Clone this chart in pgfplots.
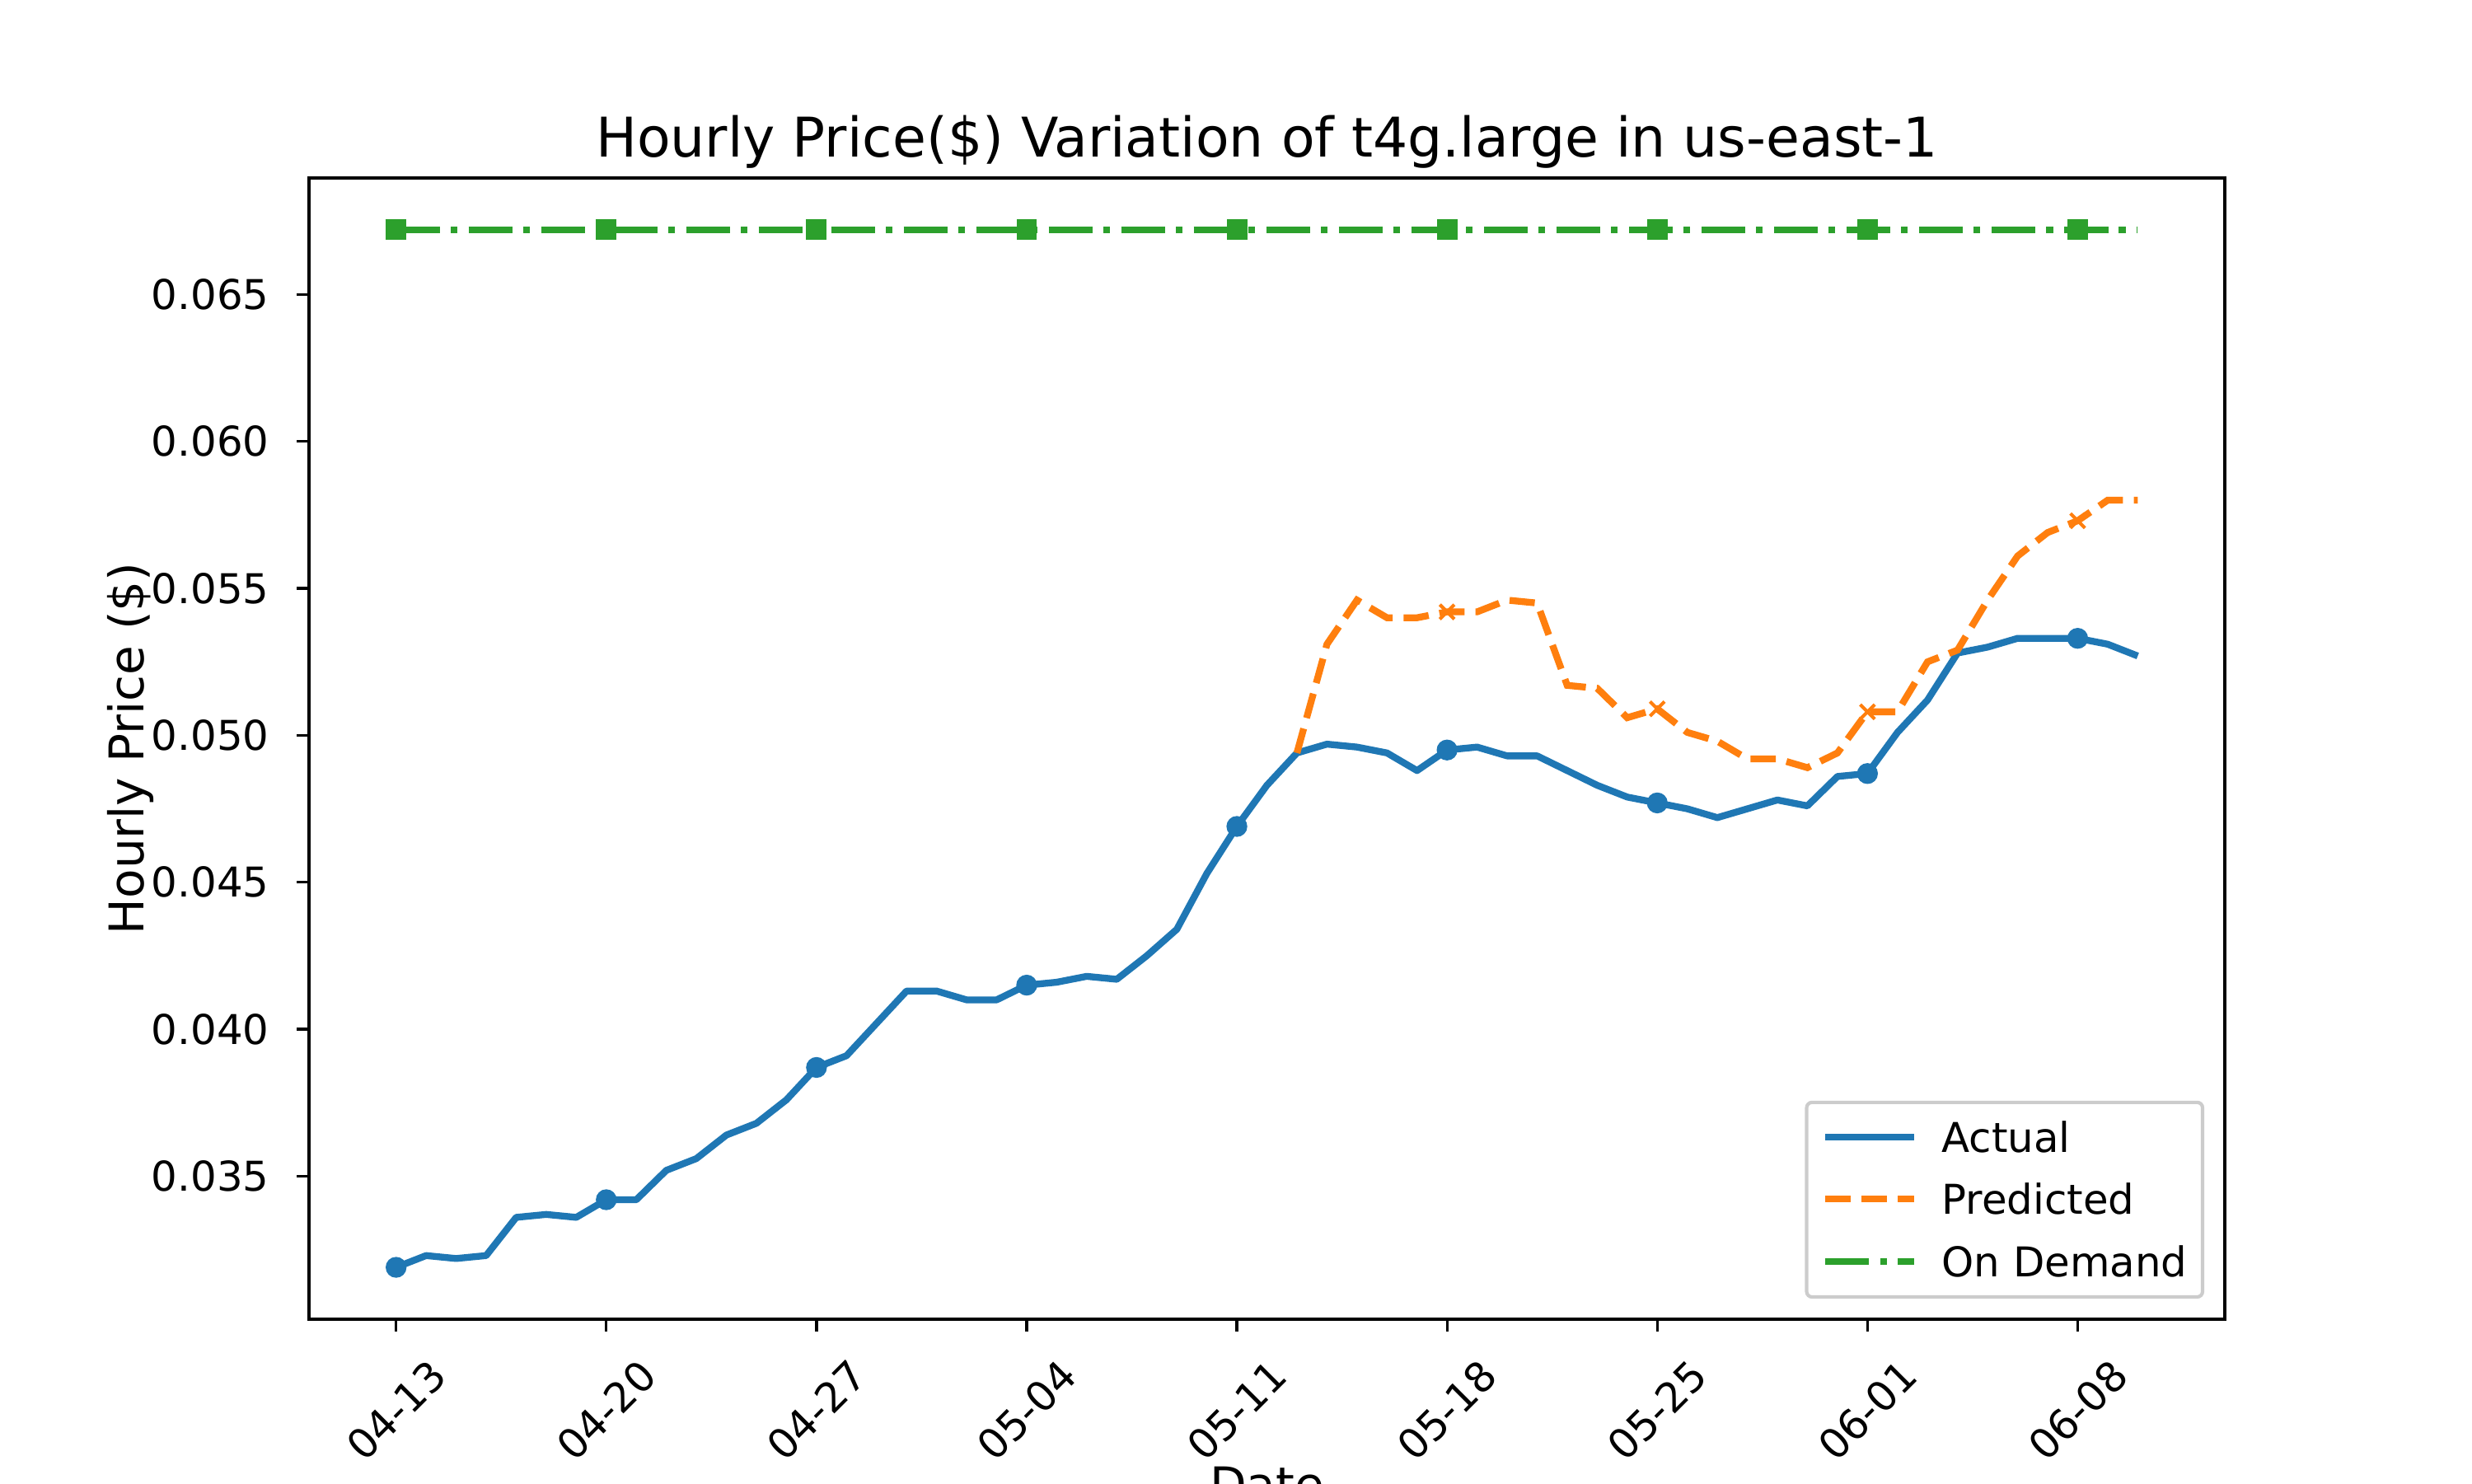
\documentclass[border=0pt]{standalone}
\usepackage{fontspec}
\setmainfont{DejaVu Sans}
\usepackage{pgfplots}
\pgfplotsset{compat=1.18}
\definecolor{tabblue}{HTML}{1F77B4}
\definecolor{taborange}{HTML}{FF7F0E}
\definecolor{tabgreen}{HTML}{2CA02C}
\begin{document}
\begin{tikzpicture}
\useasboundingbox (0,0) rectangle (10in,6in);
\begin{axis}[
  at={(1.25in,0.6633in)}, anchor=south west,
  scale only axis, width=7.75in, height=4.617in,
  xmin=-2.9, xmax=60.9, ymin=0.030135, ymax=0.068965,
  axis line style={line width=0.8pt},
  tick style={line width=0.8pt, black},
  tick align=outside, major tick length=3.5pt,
  xtick pos=bottom, ytick pos=left,
  xtick={0,7,14,21,28,35,42,49,56},
  xticklabels={04-13,04-20,04-27,05-04,05-11,05-18,05-25,06-01,06-08},
  ytick={0.035,0.040,0.045,0.050,0.055,0.060,0.065},
  yticklabel style={/pgf/number format/fixed, /pgf/number format/fixed zerofill, /pgf/number format/precision=3, /pgf/number format/assume math mode=true},
  scaled y ticks=false,
  tick label style={font=\fontsize{12}{14}\selectfont},
  xticklabel style={inner sep=0pt, yshift=-23.2pt, rotate=45, anchor=center},
  yticklabel style={inner sep=0pt, anchor=east, xshift=-8pt},
  every axis title/.style={at={(0.5,1)}, anchor=base, yshift=6pt, font=\fontsize{16}{19}\selectfont},
  title={Hourly Price(\$) Variation of t4g.large in us-east-1},
  every axis y label/.style={at={(0,0.5)}, xshift=-48.4pt, rotate=90, anchor=base, font=\fontsize{14}{17}\selectfont},
  ylabel={Hourly Price (\$)},
  every axis x label/.style={at={(0.5,0)}, anchor=north, inner sep=0pt, yshift=-43pt, font=\fontsize{14}{17}\selectfont},
  xlabel={Date},
  legend style={at={(1,0)}, anchor=south east, xshift=-6pt, yshift=6pt,
    draw=black!20, line width=1pt, rounded corners=1.6pt, fill=white,
    font=\fontsize{12}{14}\selectfont,
    inner xsep=4.5pt, inner ysep=5.5pt, row sep=8.7pt,
    nodes={inner sep=0pt, text height=9pt, text depth=0.5pt},
    cells={anchor=base west},
    /tikz/every odd column/.append style={column sep=7pt}},
  legend image code/.code={\path[draw=none, fill=none] (0pt,0pt) rectangle (26pt,9pt); \draw[#1, mark=none] (0pt,4.4pt) -- (26pt,4.4pt);},
]
\addplot[color=tabblue, line width=2pt, line join=round, mark=*, mark size=2.9pt,
  mark options={solid, line width=0.3pt}, mark repeat=7, mark phase=1]
coordinates {
(0,0.0319)(1,0.0323)(2,0.0322)(3,0.0323)(4,0.0336)(5,0.0337)(6,0.0336)
(7,0.0342)(8,0.0342)(9,0.0352)(10,0.0356)(11,0.0364)(12,0.0368)(13,0.0376)
(14,0.0387)(15,0.0391)(16,0.0402)(17,0.0413)(18,0.0413)(19,0.0410)(20,0.0410)
(21,0.0415)(22,0.0416)(23,0.0418)(24,0.0417)(25,0.0425)(26,0.0434)(27,0.0453)
(28,0.0469)(29,0.0483)(30,0.0494)(31,0.0497)(32,0.0496)(33,0.0494)(34,0.0488)
(35,0.0495)(36,0.0496)(37,0.0493)(38,0.0493)(39,0.0488)(40,0.0483)(41,0.0479)
(42,0.0477)(43,0.0475)(44,0.0472)(45,0.0475)(46,0.0478)(47,0.0476)(48,0.0486)
(49,0.0487)(50,0.0501)(51,0.0512)(52,0.0528)(53,0.0530)(54,0.0533)(55,0.0533)
(56,0.0533)(57,0.0531)(58,0.0527)
};
\addlegendentry{Actual}
\addplot[color=taborange, line width=2pt, dash pattern=on 7.4pt off 3.2pt, mark=x, mark size=3pt,
  mark options={solid, line width=1pt}, mark repeat=7, mark phase=6]
coordinates {
(30,0.0494)(31,0.0531)(32,0.0546)(33,0.0540)(34,0.0540)(35,0.0542)(36,0.0542)
(37,0.0546)(38,0.0545)(39,0.0517)(40,0.0516)(41,0.0506)(42,0.0509)(43,0.0501)
(44,0.0498)(45,0.0492)(46,0.0492)(47,0.0489)(48,0.0494)(49,0.0508)(50,0.0508)
(51,0.0525)(52,0.0529)(53,0.0546)(54,0.0561)(55,0.0569)(56,0.0573)(57,0.0580)
(58,0.0580)
};
\addlegendentry{Predicted}
\addplot[color=tabgreen, line width=2pt, dash pattern=on 12.8pt off 3.2pt on 2pt off 3.2pt,
  mark=square*, mark size=2.85pt, mark options={solid, line width=0.3pt}, mark repeat=7, mark phase=1]
coordinates {
(0,0.0672)(1,0.0672)(2,0.0672)(3,0.0672)(4,0.0672)(5,0.0672)(6,0.0672)
(7,0.0672)(8,0.0672)(9,0.0672)(10,0.0672)(11,0.0672)(12,0.0672)(13,0.0672)
(14,0.0672)(15,0.0672)(16,0.0672)(17,0.0672)(18,0.0672)(19,0.0672)(20,0.0672)
(21,0.0672)(22,0.0672)(23,0.0672)(24,0.0672)(25,0.0672)(26,0.0672)(27,0.0672)
(28,0.0672)(29,0.0672)(30,0.0672)(31,0.0672)(32,0.0672)(33,0.0672)(34,0.0672)
(35,0.0672)(36,0.0672)(37,0.0672)(38,0.0672)(39,0.0672)(40,0.0672)(41,0.0672)
(42,0.0672)(43,0.0672)(44,0.0672)(45,0.0672)(46,0.0672)(47,0.0672)(48,0.0672)
(49,0.0672)(50,0.0672)(51,0.0672)(52,0.0672)(53,0.0672)(54,0.0672)(55,0.0672)
(56,0.0672)(57,0.0672)(58,0.0672)
};
\addlegendentry{On Demand}
\end{axis}
\end{tikzpicture}
\end{document}
